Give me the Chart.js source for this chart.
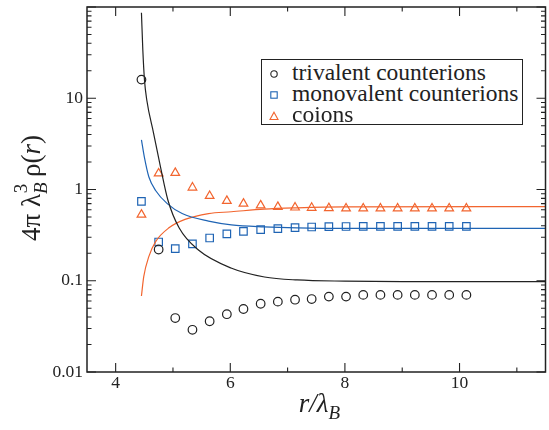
<!DOCTYPE html>
<html>
<head>
<meta charset="utf-8">
<script src="https://cdn.jsdelivr.net/npm/chart.js@4"></script>
<style>
  html, body { margin: 0; padding: 0; overflow: hidden; background: #fff; }
  #wrap { position: relative; width: 552px; height: 430px; font-family: 'Liberation Serif', 'Times New Roman', serif; color: #222; }
  #legend {
    position: absolute; left: 261px; top: 59px; width: 262px; height: 66px;
    border: 1.5px solid #222; background: #fff; box-sizing: border-box;
    font-size: 23.5px; line-height: 21px; padding-top: 2px;
  }
  #legend .row { position: relative; padding-left: 30px; white-space: nowrap; }
  #legend svg { position: absolute; left: 7px; top: 7px; }
  #xtitle {
    position: absolute; left: 87px; width: 465px; top: 390px; text-align: center;
    font-size: 27px; line-height: 27px; font-style: italic; white-space: nowrap;
  }
  #xtitle sub { font-size: 19px; vertical-align: -7px; line-height: 0; }
  #ytitle {
    position: absolute; left: -69px; top: 171px; width: 200px; height: 34px; line-height: 34px;
    text-align: center; font-size: 27px; white-space: nowrap; transform: rotate(-90deg);
  }
  #ytitle sub { font-size: 19px; font-style: italic; vertical-align: -7px; line-height: 0; }
  #ytitle sup { font-size: 19px; vertical-align: 13px; line-height: 0; margin-left: -11px; }
</style>
</head>
<body>
<div id="wrap">
  <canvas id="chart" width="552" height="430"></canvas>
  <div id="legend">
    <div class="row"><svg width="10" height="10"><circle cx="5" cy="5" r="3.2" fill="none" stroke="#222" stroke-width="1.1"/></svg>trivalent counterions</div>
    <div class="row"><svg width="10" height="10"><rect x="1.8" y="1.8" width="6.4" height="6.4" fill="none" stroke="#1f64b4" stroke-width="1.1"/></svg>monovalent counterions</div>
    <div class="row"><svg width="10" height="10"><polygon points="5,1.2 9,8.5 1,8.5" fill="none" stroke="#f2652f" stroke-width="1.1"/></svg>coions</div>
  </div>
  <div id="xtitle">r/λ<sub>B</sub></div>
  <div id="ytitle">4π λ<sub>B</sub><sup>3</sup> ρ(<i>r</i>)</div>
</div>
<script>
// --- Data ---
const rValues = [4.45, 4.75, 5.04, 5.34, 5.64, 5.94, 6.23, 6.53, 6.83, 7.13,
                 7.42, 7.72, 8.02, 8.32, 8.62, 8.92, 9.22, 9.52, 9.82, 10.12];
const trivalent = [16, 0.22, 0.039, 0.029, 0.036, 0.043, 0.049, 0.056, 0.059, 0.062,
                   0.063, 0.067, 0.067, 0.07, 0.07, 0.07, 0.07, 0.07, 0.07, 0.07];
const monovalent = [0.74, 0.266, 0.225, 0.253, 0.294, 0.326, 0.348, 0.363, 0.372, 0.383,
                    0.388, 0.392, 0.393, 0.395, 0.395, 0.395, 0.395, 0.395, 0.395, 0.395];
const coions = [0.53, 1.5, 1.52, 1.05, 0.85, 0.75, 0.70, 0.67, 0.645, 0.635,
                0.63, 0.625, 0.62, 0.62, 0.62, 0.62, 0.62, 0.62, 0.62, 0.62];

// theory curves
const triCurveX = [4.45, 4.474, 4.503, 4.543, 4.661, 4.782, 4.911, 5.109, 5.444, 6.012, 6.597, 7.165, 8, 9, 11.5];
const triCurveY = [86.6, 33.8, 15.8, 9.57, 4.16, 1.77, 0.767, 0.378, 0.217, 0.138, 0.11, 0.102, 0.099, 0.098, 0.098];
const monoCurveX = [4.45, 4.5, 4.58, 4.7, 4.9, 5.16, 5.62, 6.02, 6.59, 7.17, 8, 11.5];
const monoCurveY = [3.5, 2.28, 1.37, 0.97, 0.70, 0.545, 0.45, 0.41, 0.39, 0.38, 0.375, 0.375];
const coCurveX = [4.45, 4.49, 4.58, 4.7, 4.93, 5.21, 5.62, 6.02, 6.59, 7.17, 8, 11.5];
const coCurveY = [0.068, 0.111, 0.185, 0.27, 0.38, 0.47, 0.545, 0.57, 0.61, 0.63, 0.645, 0.65];

// axes
const xTickValues = [4, 6, 8, 10];
const xMinorTicks = [5, 7, 9, 11];
const yTickValues = [0.01, 0.1, 1, 10];
const yTickLabels = ['0.01', '0.1', '1', '10'];

const BLACK = '#222';
const BLUE = '#1f64b4';
const ORANGE = '#f2652f';
const serif = "'Liberation Serif', 'Times New Roman', serif";

const pairs = (xs, ys) => xs.map((x, i) => ({ x: x, y: ys[i] }));

// frame + inward ticks on all four sides
const frameTicks = {
    id: 'frameTicks',
    afterDraw(chart) {
        const { ctx, chartArea: a, scales: { x, y } } = chart;
        ctx.save();
        ctx.strokeStyle = BLACK;
        ctx.lineWidth = 1.5;
        ctx.strokeRect(a.left, a.top, a.right - a.left, a.bottom - a.top);
        ctx.lineWidth = 1.1;
        ctx.beginPath();
        const xt = (v, len) => {
            const px = x.getPixelForValue(v);
            ctx.moveTo(px, a.bottom); ctx.lineTo(px, a.bottom - len);
            ctx.moveTo(px, a.top); ctx.lineTo(px, a.top + len);
        };
        const yt = (v, len) => {
            const py = y.getPixelForValue(v);
            ctx.moveTo(a.left, py); ctx.lineTo(a.left + len, py);
            ctx.moveTo(a.right, py); ctx.lineTo(a.right - len, py);
        };
        xTickValues.forEach(v => xt(v, 9));
        xMinorTicks.forEach(v => xt(v, 4.5));
        [0.01, 0.1, 1, 10, 100].forEach(v => yt(v, 9));
        [0.01, 0.1, 1, 10].forEach(d => {
            for (let k = 2; k <= 9; k++) yt(d * k, 4.5);
        });
        ctx.stroke();
        ctx.restore();
    }
};

const markers = (label, data, style, color, radius) => ({
    label: label,
    data: data,
    showLine: false,
    pointStyle: style,
    pointRadius: radius,
    pointBorderColor: color,
    pointBackgroundColor: 'rgba(0,0,0,0)',
    pointBorderWidth: 1.2
});

const curve = (data, color) => ({
    data: data,
    showLine: true,
    borderColor: color,
    borderWidth: 1.2,
    pointRadius: 0,
    cubicInterpolationMode: 'monotone',
    fill: false
});

new Chart(document.getElementById('chart'), {
    type: 'scatter',
    data: {
        datasets: [
            curve(pairs(triCurveX, triCurveY), BLACK),
            curve(pairs(monoCurveX, monoCurveY), BLUE),
            curve(pairs(coCurveX, coCurveY), ORANGE),
            markers('trivalent counterions', pairs(rValues, trivalent), 'circle', BLACK, 4.3),
            markers('monovalent counterions', pairs(rValues, monovalent), 'rect', BLUE, 5.3),
            markers('coions', pairs(rValues, coions), 'triangle', ORANGE, 5)
        ]
    },
    options: {
        responsive: false,
        animation: false,
        layout: { padding: { top: 7, right: 0, left: 0, bottom: 0 } },
        plugins: { legend: { display: false }, tooltip: { enabled: false } },
        scales: {
            x: {
                type: 'linear', min: 3.5, max: 11.5,
                grid: { display: false, drawTicks: false }, border: { display: false },
                ticks: { font: { family: serif, size: 17.5 }, color: BLACK, padding: 1, maxRotation: 0 },
                afterBuildTicks: s => { s.ticks = xTickValues.map(v => ({ value: v })); },
                afterFit: s => { s.height = 58; s.paddingLeft = 0; s.paddingRight = 0; }
            },
            y: {
                type: 'logarithmic', min: 0.01, max: 100,
                grid: { display: false, drawTicks: false }, border: { display: false },
                ticks: {
                    font: { family: serif, size: 17.5 }, color: BLACK, padding: 4,
                    callback: v => {
                        const i = yTickValues.indexOf(v);
                        return i >= 0 ? yTickLabels[i] : '';
                    }
                },
                afterBuildTicks: s => { s.ticks = yTickValues.map(v => ({ value: v })); },
                afterFit: s => { s.width = 87; s.paddingTop = 0; s.paddingBottom = 0; }
            }
        }
    },
    plugins: [frameTicks]
});
</script>
</body>
</html>
